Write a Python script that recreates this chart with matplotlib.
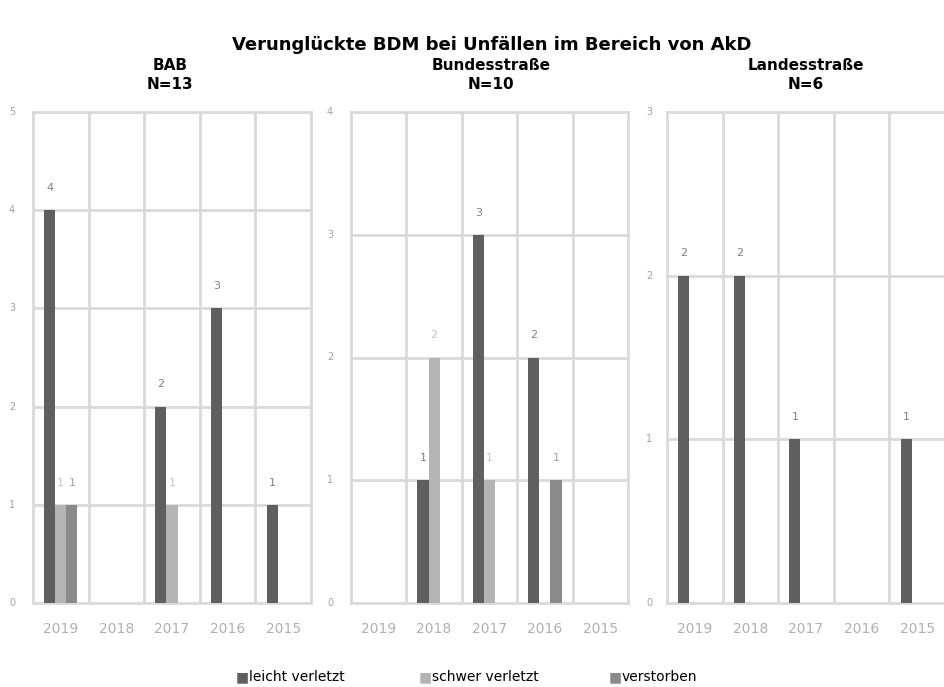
import matplotlib.pyplot as plt
import numpy as np

plt.rcParams['font.family'] = ['DejaVu Sans']

# data
years = ['2019', '2018', '2017', '2016', '2015']
series = ['leicht verletzt', 'schwer verletzt', 'verstorben']
colors = ['#5f5f5f', '#b4b4b4', '#8a8a8a']

panels = ['BAB\nN=13', 'Bundesstraße\nN=10', 'Landesstraße\nN=6']
ymax = [5, 4, 3]

bab_leicht = [4, 0, 2, 3, 1]
bab_schwer = [1, 0, 1, 0, 0]
bab_verst = [1, 0, 0, 0, 0]

bund_leicht = [0, 1, 3, 2, 0]
bund_schwer = [0, 2, 1, 0, 0]
bund_verst = [0, 0, 0, 1, 0]

land_leicht = [2, 2, 1, 0, 1]
land_schwer = [0, 0, 0, 0, 0]
land_verst = [0, 0, 0, 0, 0]

values = [
    [bab_leicht, bab_schwer, bab_verst],
    [bund_leicht, bund_schwer, bund_verst],
    [land_leicht, land_schwer, land_verst],
]

W, H = 945, 687
fig = plt.figure(figsize=(9.45, 6.87), dpi=100)

# panel boxes in pixels (left, right)
boxes = [(33, 311), (351, 628), (667, 945)]
top, bottom = 112, 603
ylab_x = [12, 330, 649]
centers = [170, 491, 806]

grid_c = '#d9d9d9'
bw = 0.2

for i in range(3):
    l, r = boxes[i]
    ax = fig.add_axes([l / W, 1 - bottom / H, (r - l) / W, (bottom - top) / H])
    x = np.arange(len(years))
    for j in range(3):
        v = np.array(values[i][j])
        pos = x + (j - 1) * bw
        mask = v > 0
        ax.bar(pos[mask], v[mask], width=bw, color=colors[j], zorder=3)
        for p, val in zip(pos[mask], v[mask]):
            ax.text(p, val + ymax[i] * 0.035, str(val), ha='center', va='bottom',
                    fontsize=8, color=colors[j], alpha=0.8)
    ax.set_xlim(-0.5, len(years) - 0.5)
    ax.set_ylim(0, ymax[i])
    ax.set_xticks(x)
    ax.set_xticklabels(years, fontsize=10, color='#b0b0b0')
    ax.set_yticks(range(ymax[i] + 1))
    ax.set_yticklabels([])
    for k in range(ymax[i] + 1):
        fig.text(ylab_x[i] / W, 1 - (bottom - k * (bottom - top) / ymax[i]) / H, str(k),
                 ha='center', va='center', fontsize=7, color='#a0a0a0')
    ax.tick_params(length=0, pad=14)
    for k in range(1, len(years)):
        ax.axvline(k - 0.5, color=grid_c, lw=2, zorder=1)
    for k in range(1, ymax[i]):
        ax.axhline(k, color=grid_c, lw=2, zorder=1)
    for s in ax.spines.values():
        s.set_color(grid_c)
        s.set_linewidth(2)
    fig.text(centers[i] / W, 1 - 75 / H, panels[i], ha='center', va='center',
             fontsize=11, fontweight='bold', linespacing=1.35)

fig.text(492 / W, 1 - 45 / H, 'Verunglückte BDM bei Unfällen im Bereich von AkD',
         ha='center', va='center', fontsize=13, fontweight='bold')

# legend
leg_x = [236, 419, 609]
for j in range(3):
    fig.text(leg_x[j] / W, 1 - 677 / H, '\u25a0', ha='left', va='center',
             fontsize=10, color=colors[j])
    fig.text((leg_x[j] + 13) / W, 1 - 677 / H, series[j], ha='left', va='center',
             fontsize=10)

fig.savefig('out.png', dpi=100)
